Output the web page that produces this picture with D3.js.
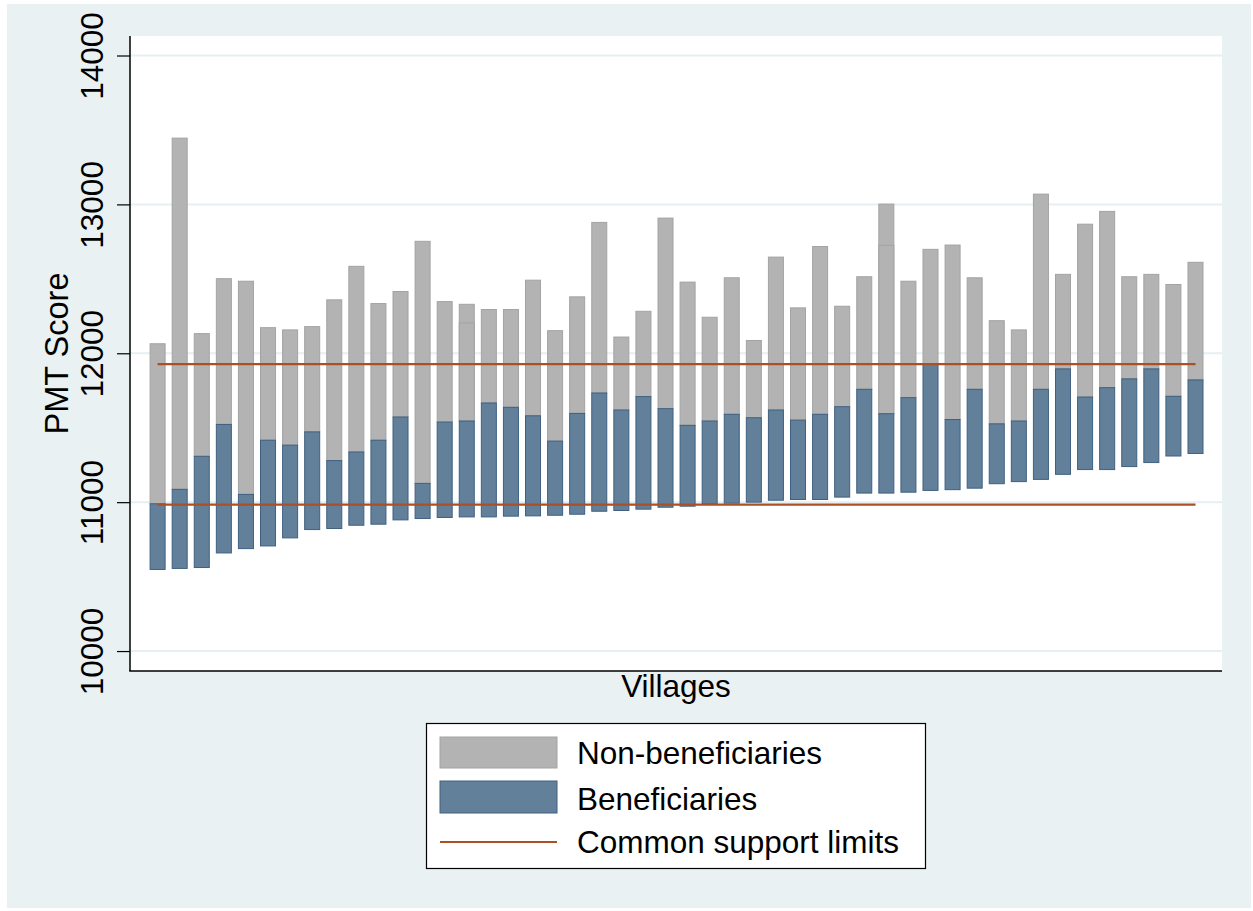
<!DOCTYPE html>
<html>
<head>
<meta charset="utf-8">
<script src="https://cdn.jsdelivr.net/npm/d3@7"></script>
<style>
  html, body { margin: 0; padding: 0; background: #ffffff; }
  svg { display: block; font-family: "Liberation Sans", Arial, sans-serif; }
</style>
</head>
<body>
<svg id="chart" width="1253" height="911"></svg>
<script>
// Villages, sorted by the lowest beneficiary PMT score
const villages = d3.range(1, 49);

// Beneficiaries: lowest and highest PMT score per village
const benLow = [10548, 10555, 10561, 10659, 10688, 10706, 10760, 10816, 10823, 10845,
                10852, 10881, 10890, 10897, 10901, 10901, 10906, 10908, 10912, 10919,
                10939, 10944, 10953, 10966, 10973, 10989, 10993, 11000, 11013, 11018,
                11018, 11034, 11061, 11061, 11067, 11079, 11084, 11094, 11124, 11138,
                11153, 11187, 11219, 11219, 11239, 11266, 11310, 11327];
const benHigh = [10989, 11086, 11308, 11522, 11052, 11416, 11383, 11472, 11279, 11337,
                 11416, 11572, 11126, 11538, 11545, 11666, 11637, 11580, 11410, 11596,
                 11733, 11619, 11709, 11628, 11516, 11545, 11590, 11567, 11619, 11551,
                 11590, 11641, 11758, 11594, 11702, 11927, 11555, 11758, 11526, 11545,
                 11758, 11895, 11706, 11769, 11828, 11895, 11711, 11821];

// Non-beneficiaries: range per village (the lower end sits behind the beneficiary bar)
const nonBenLow = benHigh.slice();
const nonBenHigh = [12064, 13445, 12132, 12501, 12484, 12172, 12157, 12179, 12359, 12584,
                    12334, 12415, 12752, 12347, 12329, 12294, 12294, 12491, 12152, 12379,
                    12879, 12109, 12282, 12908, 12478, 12242, 12507, 12086, 12646, 12305,
                    12717, 12316, 12514, 13002, 12484, 12698, 12727, 12507, 12219, 12157,
                    13069, 12530, 12867, 12953, 12514, 12530, 12462, 12611];

// Villages that appear twice, with the second non-beneficiary maximum
const repeatVillages = [15, 34];
const repeatNonBenHigh = [12204, 12725];

// Common support limits (lower, upper)
const supportLimits = [10984, 11927];

const yTicks = [10000, 11000, 12000, 13000, 14000];
const legendLabels = ["Non-beneficiaries", "Beneficiaries", "Common support limits"];

const colors = {
  bg: "#e9f1f2",
  grid: "#e6eff1",
  gray: "#b3b3b3",
  grayEdge: "#a3a3a3",
  blue: "#62809a",
  blueEdge: "#3f6080",
  line: "#ad4f22"
};

const W = 1253, H = 911;
const plot = { left: 130, right: 1222, top: 36, bottom: 671 };
const fontSize = 31.5;

const svg = d3.select("#chart");

// graph region
svg.append("rect").attr("x", 7).attr("y", 4).attr("width", W - 9).attr("height", H - 7)
  .attr("fill", colors.bg);
// plot region
svg.append("rect").attr("x", plot.left).attr("y", plot.top)
  .attr("width", plot.right - plot.left).attr("height", plot.bottom - plot.top)
  .attr("fill", "#ffffff");

const x = d3.scaleLinear().domain([-0.25, 49.2]).range([plot.left, plot.right]);
const y = d3.scaleLinear().domain([9866, 14131]).range([plot.bottom, plot.top]);
const barW = 0.68 * (x(1) - x(0));

// grid lines
svg.append("g").selectAll("line").data(yTicks).join("line")
  .attr("x1", plot.left).attr("x2", plot.right)
  .attr("y1", d => y(d)).attr("y2", d => y(d))
  .attr("stroke", colors.grid).attr("stroke-width", 2);

// non-beneficiary ranges
svg.append("g").selectAll("rect").data(villages).join("rect")
  .attr("x", (d) => x(d) - barW / 2)
  .attr("width", barW)
  .attr("y", (d, i) => y(nonBenHigh[i]))
  .attr("height", (d, i) => y(nonBenLow[i]) - y(nonBenHigh[i]))
  .attr("fill", colors.gray).attr("stroke", colors.grayEdge).attr("stroke-width", 1);

svg.append("g").selectAll("rect").data(repeatVillages).join("rect")
  .attr("x", d => x(d) - barW / 2)
  .attr("width", barW)
  .attr("y", (d, i) => y(repeatNonBenHigh[i]))
  .attr("height", (d, i) => y(benHigh[d - 1]) - y(repeatNonBenHigh[i]))
  .attr("fill", colors.gray).attr("stroke", colors.grayEdge).attr("stroke-width", 1);

// beneficiary ranges
svg.append("g").selectAll("rect").data(villages).join("rect")
  .attr("x", d => x(d) - barW / 2)
  .attr("width", barW)
  .attr("y", (d, i) => y(benHigh[i]))
  .attr("height", (d, i) => y(benLow[i]) - y(benHigh[i]))
  .attr("fill", colors.blue).attr("stroke", colors.blueEdge).attr("stroke-width", 1);

// common support limits
svg.append("g").selectAll("line").data(supportLimits).join("line")
  .attr("x1", x(villages[0])).attr("x2", x(villages[villages.length - 1]))
  .attr("y1", d => y(d)).attr("y2", d => y(d))
  .attr("stroke", colors.line).attr("stroke-width", 2.2);

// y axis
const yAxis = d3.axisLeft(y).tickValues(yTicks).tickSize(13).tickFormat(d3.format("d"));
const gy = svg.append("g").attr("transform", `translate(${plot.left},0)`).call(yAxis);
gy.select(".domain").attr("d", `M0,${plot.top}V${plot.bottom}`)
  .attr("stroke", "#000").attr("stroke-width", 1.5);
gy.selectAll(".tick line").attr("stroke", "#000").attr("stroke-width", 1.2);
gy.selectAll(".tick text")
  .attr("font-size", fontSize).attr("fill", "#000")
  .attr("text-anchor", "middle")
  .attr("x", null).attr("dy", null)
  .attr("transform", "translate(-27,0) rotate(-90)");

// x axis line (no ticks)
svg.append("line")
  .attr("x1", plot.left - 0.75).attr("x2", plot.right)
  .attr("y1", plot.bottom).attr("y2", plot.bottom)
  .attr("stroke", "#000").attr("stroke-width", 1.5);

// axis titles
svg.append("text")
  .attr("transform", `translate(68,${(plot.top + plot.bottom) / 2}) rotate(-90)`)
  .attr("text-anchor", "middle").attr("font-size", 32.5).attr("fill", "#000")
  .text("PMT Score");
svg.append("text")
  .attr("x", (plot.left + plot.right) / 2).attr("y", 697)
  .attr("text-anchor", "middle").attr("font-size", fontSize).attr("fill", "#000")
  .text("Villages");

// legend
const lg = svg.append("g");
lg.append("rect").attr("x", 426.5).attr("y", 723.5).attr("width", 499).attr("height", 145)
  .attr("fill", "#fff").attr("stroke", "#000").attr("stroke-width", 1.2);
lg.append("rect").attr("x", 440).attr("y", 737).attr("width", 117).attr("height", 31)
  .attr("fill", colors.gray).attr("stroke", colors.grayEdge).attr("stroke-width", 1);
lg.append("rect").attr("x", 440).attr("y", 781).attr("width", 117).attr("height", 32)
  .attr("fill", colors.blue).attr("stroke", colors.blueEdge).attr("stroke-width", 1);
lg.append("line").attr("x1", 440).attr("x2", 557).attr("y1", 842).attr("y2", 842)
  .attr("stroke", colors.line).attr("stroke-width", 2.2);
lg.selectAll("text.lab").data(legendLabels).join("text")
  .attr("class", "lab")
  .attr("x", 577).attr("y", (d, i) => [764, 810, 853][i])
  .attr("font-size", fontSize).attr("fill", "#000")
  .text(d => d);
</script>
</body>
</html>
